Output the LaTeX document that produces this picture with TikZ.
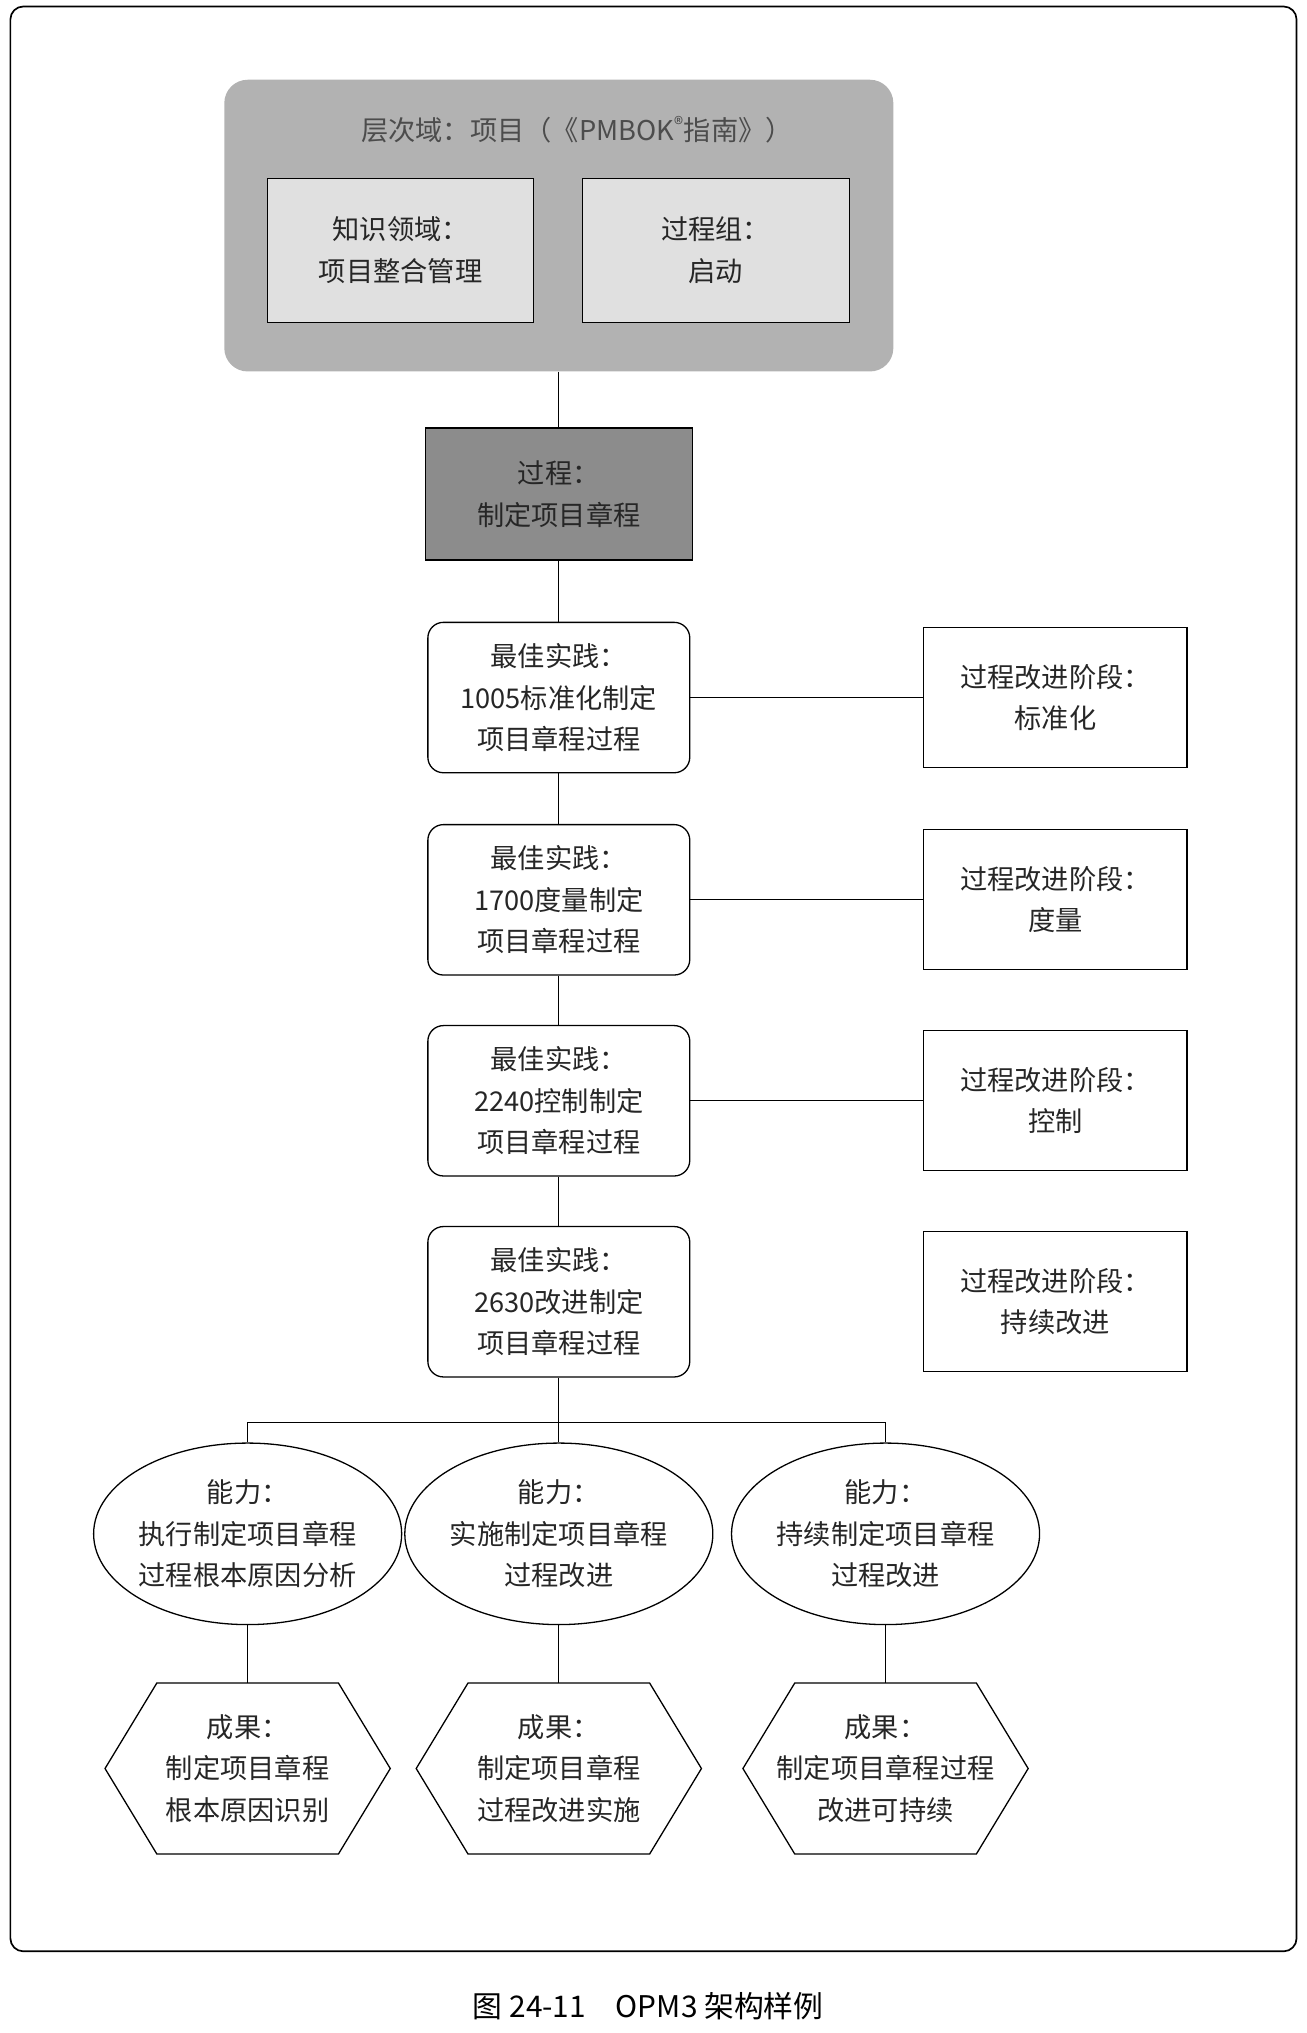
\documentclass[tikz,border=0pt]{standalone}
\usepackage{fontspec}
\setmainfont{Noto Sans CJK SC}
\usetikzlibrary{shapes.geometric}
\begin{document}
\begin{tikzpicture}[x=1pt,y=-1pt,
  txt/.style={font=\fontsize{21}{32}\selectfont,align=center,text=black!85},
  bx/.style={draw,line width=1pt,txt},
  ln/.style={line width=0.9pt}]
\useasboundingbox (0,0) rectangle (1008,1568);
\draw[line width=1.3pt,rounded corners=10] (8,5) rectangle (1000,1505);
\node[draw=none,fill=black!30,rounded corners=18,minimum width=516,minimum height=225] (dom) at (431,174) {};
\node[txt,text=black!70] (domt) at (445,100) {层次域：项目（《PMBOK\textsuperscript{®}指南》）};
\node[bx,fill=black!12,minimum width=205,minimum height=111] (ka) at (309,193) {知识领域：\\项目整合管理};
\node[bx,fill=black!12,minimum width=206,minimum height=111] (pg) at (552,193) {过程组：\\启动};
\node[bx,fill=black!45,minimum width=206,minimum height=102] (pr) at (431,381) {过程：\\制定项目章程};
\draw[ln] (dom.south) -- (pr.north);
\foreach \i/\y/\t/\s in {1/538/1005标准化制定/标准化,2/694/1700度量制定/度量,3/849/2240控制制定/控制,4/1004/2630改进制定/持续改进}{
  \node[bx,rounded corners=12,minimum width=202,minimum height=116] (bp\i) at (431,\y) {最佳实践：\\\t\\项目章程过程};
  \node[bx,minimum width=203,minimum height=108] (st\i) at (814,\y) {过程改进阶段：\\\s};
}
\draw[ln] (pr.south) -- (bp1.north);
\draw[ln] (bp1.south) -- (bp2.north);
\draw[ln] (bp2.south) -- (bp3.north);
\draw[ln] (bp3.south) -- (bp4.north);
\draw[ln] (bp1.east) -- (st1.west);
\draw[ln] (bp2.east) -- (st2.west);
\draw[ln] (bp3.east) -- (st3.west);
\foreach \i/\x/\t/\h in {1/191/执行制定项目章程\\过程根本原因分析/制定项目章程\\根本原因识别,2/431/实施制定项目章程\\过程改进/制定项目章程\\过程改进实施,3/683/持续制定项目章程\\过程改进/制定项目章程过程\\改进可持续}{
  \node[draw,ellipse,line width=1pt,txt,minimum width=234,minimum height=140,inner sep=0] (ca\i) at (\x,1183) {能力：\\\t};
  \node[txt] (oc\i) at (\x,1364) {成果：\\\h};
  \draw[line width=1pt] (\x-70,1298) -- (\x+70,1298) -- (\x+110,1364) -- (\x+70,1430) -- (\x-70,1430) -- (\x-110,1364) -- cycle;
  \coordinate (htop\i) at (\x,1298);
  \draw[ln] (ca\i.south) -- (htop\i);
}
\coordinate (j) at (431,1097);
\draw[ln] (bp4.south) -- (j);
\draw[ln] (ca1.north) |- (j) -| (ca3.north);
\draw[ln] (ca2.north) -- (ca2.north |- j);
\node[font=\fontsize{23}{26}\selectfont] (cap) at (500,1547) {图 24-11\quad OPM3 架构样例};
\end{tikzpicture}
\end{document}
